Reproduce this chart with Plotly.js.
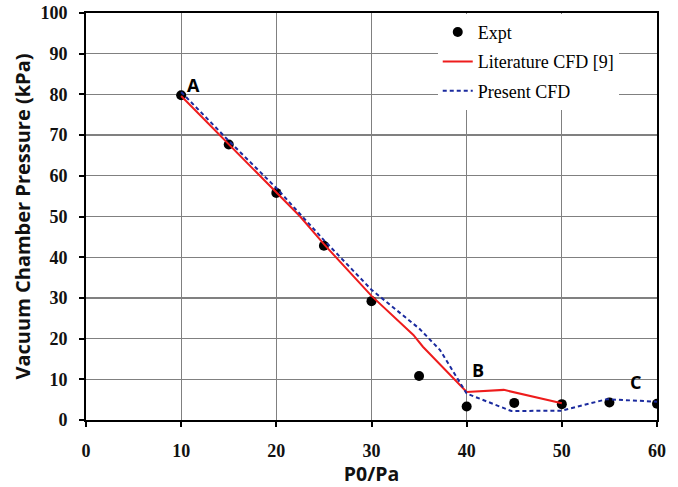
<!DOCTYPE html>
<html>
<head>
<meta charset="utf-8">
<script src="https://cdn.plot.ly/plotly-3.0.1.min.js"></script>
<style>html,body{margin:0;padding:0;background:#fff;}#chart{width:678px;height:487px;}</style>
</head>
<body>
<div id="chart"></div>
<script>
// Experimental data
const exptX = [10, 15, 20, 25, 30, 35, 40, 45, 50, 55, 60];
const exptY = [79.8, 67.7, 55.8, 42.8, 29.2, 10.8, 3.3, 4.2, 3.9, 4.3, 4.0];
// Literature CFD [9]
const litX = [10, 15, 20, 22.5, 25, 30, 34.4, 35.4, 40, 43.9, 50];
const litY = [79.6, 67.7, 56.0, 50.0, 43.2, 30.5, 20.9, 18.0, 6.9, 7.4, 4.1];
// Present CFD
const presX = [10, 15, 20, 25, 30, 35, 37.2, 40, 44.7, 50, 54.7, 60];
const presY = [80.6, 68.6, 57.0, 44.2, 32.0, 22.5, 17.2, 6.5, 2.2, 2.3, 5.1, 4.5];
// Point labels
const labelX = [11.3, 41.2, 57.7];
const labelY = [82.3, 12.2, 9.4];
const labelText = ['A', 'B', 'C'];
const xTicks = [0, 10, 20, 30, 40, 50, 60];
const yTicks = [0, 10, 20, 30, 40, 50, 60, 70, 80, 90, 100];

const traces = [
  {x: exptX, y: exptY, name: 'Expt', mode: 'markers', type: 'scatter', legendgroup: 'a',
   marker: {color: '#000', size: 10}},
  {x: litX, y: litY, name: 'Literature CFD [9]', mode: 'lines', type: 'scatter', legendgroup: 'b',
   line: {color: '#ee1c1c', width: 2}},
  {x: presX, y: presY, name: 'Present CFD', mode: 'lines', type: 'scatter', legendgroup: 'c',
   line: {color: '#1a2a9e', width: 2, dash: '4px,3px'}}
];

const annotations = labelText.map((t, i) => ({
  x: labelX[i], y: labelY[i], xref: 'x', yref: 'y', text: t, showarrow: false,
  font: {family: 'Open Sans', size: 18, color: '#000', weight: 'bold'}
}));

const layout = {
  width: 678, height: 487,
  margin: {l: 86, r: 21, t: 13, b: 67},
  paper_bgcolor: '#fff', plot_bgcolor: '#fff',
  showlegend: true,
  legend: {x: 0.616, y: 0.998, xanchor: 'left', yanchor: 'top', bgcolor: '#fff',
           traceorder: 'grouped', tracegroupgap: 3, itemwidth: 30,
           font: {family: 'Liberation Serif', size: 18, color: '#000'}},
  xaxis: {range: [0, 60], tickvals: xTicks, ticktext: xTicks.map(String),
          showgrid: true, gridcolor: '#808080', gridwidth: 1.3,
          showline: true, linecolor: '#000', linewidth: 2, mirror: true,
          ticks: 'outside', ticklen: 5, tickcolor: '#000', tickwidth: 2,
          ticklabelstandoff: 8, zeroline: false,
          tickfont: {family: 'Liberation Serif', size: 18, color: '#111', weight: 'bold'},
          title: {text: 'P0/Pa', standoff: 11,
                  font: {family: 'Open Sans', size: 19.5, color: '#111', weight: 'bold'}}},
  yaxis: {range: [0, 100], tickvals: yTicks, ticktext: yTicks.map(String),
          showgrid: true, gridcolor: '#808080', gridwidth: 1.3,
          showline: true, linecolor: '#000', linewidth: 2, mirror: true,
          ticks: 'outside', ticklen: 5, tickcolor: '#000', tickwidth: 2,
          ticklabelstandoff: 8, zeroline: false,
          tickfont: {family: 'Liberation Serif', size: 18, color: '#111', weight: 'bold'},
          title: {text: 'Vacuum Chamber Pressure (kPa)', standoff: 4,
                  font: {family: 'Open Sans', size: 20, color: '#111', weight: 'bold'}}},
  annotations: annotations
};

Plotly.newPlot('chart', traces, layout, {displayModeBar: false, staticPlot: true});
</script>
</body>
</html>
